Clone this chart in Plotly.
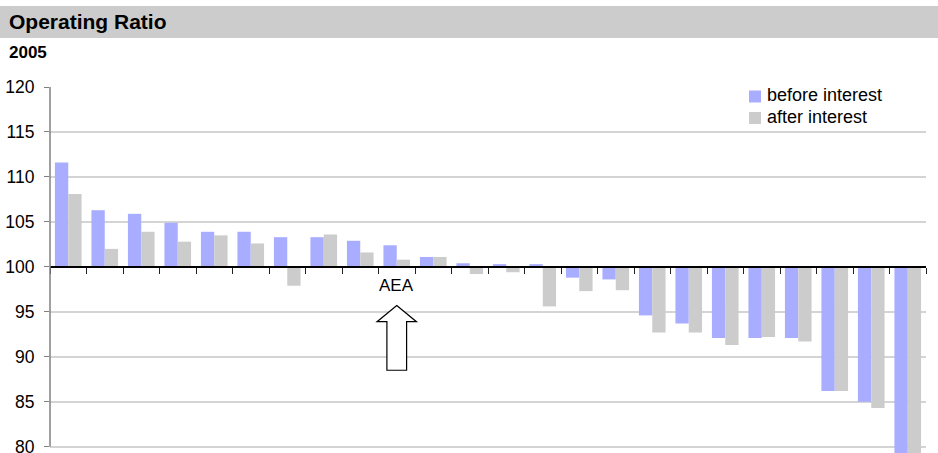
import plotly.graph_objects as go

# Operating ratio per company, 2005 (sorted by ratio before interest)
companies = list(range(24))
before_interest = [111.6, 106.3, 105.9, 104.9, 103.9, 103.9, 103.3, 103.3, 102.9, 102.4,
                   101.1, 100.4, 100.3, 100.3, 98.8, 98.6, 94.6, 93.7, 92.1, 92.1,
                   92.1, 86.2, 85.0, 79.0]
after_interest = [108.1, 102.0, 103.9, 102.8, 103.5, 102.6, 97.9, 103.6, 101.6, 100.8,
                  101.1, 99.2, 99.4, 95.6, 97.3, 97.4, 92.7, 92.7, 91.3, 92.2,
                  91.7, 86.2, 84.3, 79.0]
series_names = ["before interest", "after interest"]
y_ticks = [80, 85, 90, 95, 100, 105, 110, 115, 120]
highlight_label = "AEA"
highlight_index = 9

BASE = 100
Y_MIN, Y_MAX = 79.3, 120
W, H = 938, 453
M_L, M_R, M_T, M_B = 50, 12, 87, 0
plot_w = W - M_L - M_R
plot_h = H - M_T - M_B

BLUE = "#A9ADFF"
GREY = "#CCCCCC"
FONT = "Liberation Sans, Arial, sans-serif"
colors = [BLUE, GREY]

fig = go.Figure()
for name, vals, col in zip(series_names, [before_interest, after_interest], colors):
    fig.add_trace(go.Bar(
        x=companies, y=[v - BASE for v in vals], base=BASE,
        name=name, marker=dict(color=col, line=dict(width=0)), showlegend=False,
    ))

def px_to_paper_x(px):
    return (px - M_L) / plot_w

def px_to_paper_y(py):
    return (H - M_B - py) / plot_h

shapes = [
    # grey title band
    dict(type="rect", xref="paper", yref="paper",
         x0=px_to_paper_x(0), x1=px_to_paper_x(W),
         y0=px_to_paper_y(38), y1=px_to_paper_y(6),
         fillcolor="#CCCCCC", line=dict(width=0), layer="below"),
    # left value axis line from 80 to 120
    dict(type="line", xref="paper", yref="y", x0=0, x1=0, y0=80, y1=120,
         line=dict(color="#808080", width=1.5)),
    # bottom gridline at 80
    dict(type="line", xref="paper", yref="y", x0=0, x1=1, y0=80, y1=80,
         line=dict(color="#D4D4D4", width=1.5), layer="below"),
    # legend box
    dict(type="rect", xref="paper", yref="paper",
         x0=px_to_paper_x(740), x1=px_to_paper_x(885),
         y0=px_to_paper_y(128), y1=px_to_paper_y(80),
         fillcolor="white", line=dict(width=0), layer="above"),
]

annotations = []
# legend entries: colour swatch + label
for i, (name, col) in enumerate(zip(series_names, colors)):
    cy = 96.5 + 21.5 * i
    shapes.append(dict(type="rect", xref="paper", yref="paper",
                       x0=px_to_paper_x(749), x1=px_to_paper_x(761),
                       y0=px_to_paper_y(cy + 6), y1=px_to_paper_y(cy - 6),
                       fillcolor=col, line=dict(width=0), layer="above"))
    annotations.append(dict(text=name, xref="paper", yref="paper",
                            x=px_to_paper_x(765), y=px_to_paper_y(cy - 1),
                            xanchor="left", yanchor="middle", showarrow=False,
                            font=dict(size=18, color="black", family=FONT)))

# outlined up-arrow pointing at the highlighted company
cx = highlight_index
head_hw, shaft_hw = 0.54, 0.27
tip_y, head_y, tail_y = 95.7, 93.9, 88.5
arrow_pts = [
    (cx, tip_y), (cx + head_hw, head_y), (cx + shaft_hw, head_y), (cx + shaft_hw, tail_y),
    (cx - shaft_hw, tail_y), (cx - shaft_hw, head_y), (cx - head_hw, head_y),
]
path = "M " + " L ".join(f"{x},{y}" for x, y in arrow_pts) + " Z"
shapes.append(dict(type="path", xref="x", yref="y", path=path,
                   fillcolor="white", line=dict(color="black", width=1.2)))

annotations += [
    dict(text="<b>Operating Ratio</b>", xref="paper", yref="paper",
         x=px_to_paper_x(7), y=px_to_paper_y(22), xanchor="left", yanchor="middle",
         showarrow=False, font=dict(size=21, color="black", family=FONT)),
    dict(text="<b>2005</b>", xref="paper", yref="paper",
         x=px_to_paper_x(7), y=px_to_paper_y(52), xanchor="left", yanchor="middle",
         showarrow=False, font=dict(size=17, color="black", family=FONT)),
    dict(text=highlight_label, xref="x", yref="y", x=cx, y=97.95,
         xanchor="center", yanchor="middle", showarrow=False,
         font=dict(size=17, color="black", family=FONT)),
]

fig.update_layout(
    width=W, height=H,
    margin=dict(l=M_L, r=M_R, t=M_T, b=M_B, pad=0, autoexpand=False),
    paper_bgcolor="white", plot_bgcolor="white",
    barmode="group", bargap=0.27, bargroupgap=0,
    font=dict(family=FONT, size=17, color="black"),
    showlegend=False,
    shapes=shapes, annotations=annotations,
)
fig.update_xaxes(
    range=[-0.5, len(companies) - 0.5],
    tickvals=[i - 0.5 for i in range(len(companies) + 1)],
    showticklabels=False, ticks="outside", ticklen=6, tickwidth=1, tickcolor="#222222",
    showline=True, linecolor="black", linewidth=1.5, showgrid=False, zeroline=False,
    anchor="free", position=(BASE - Y_MIN) / (Y_MAX - Y_MIN), automargin=False,
)
fig.update_yaxes(
    range=[Y_MIN, Y_MAX], tickvals=y_ticks, ticktext=[str(t) for t in y_ticks],
    ticks="outside", ticklen=5, tickwidth=1.2, tickcolor="#808080",
    ticklabelstandoff=6, ticklabeloverflow="allow", automargin=False,
    showline=False, showgrid=True, gridcolor="#D4D4D4", gridwidth=1.5, zeroline=False,
    tickfont=dict(size=17.5, family=FONT, color="black"),
)

fig.write_html("out.html")
